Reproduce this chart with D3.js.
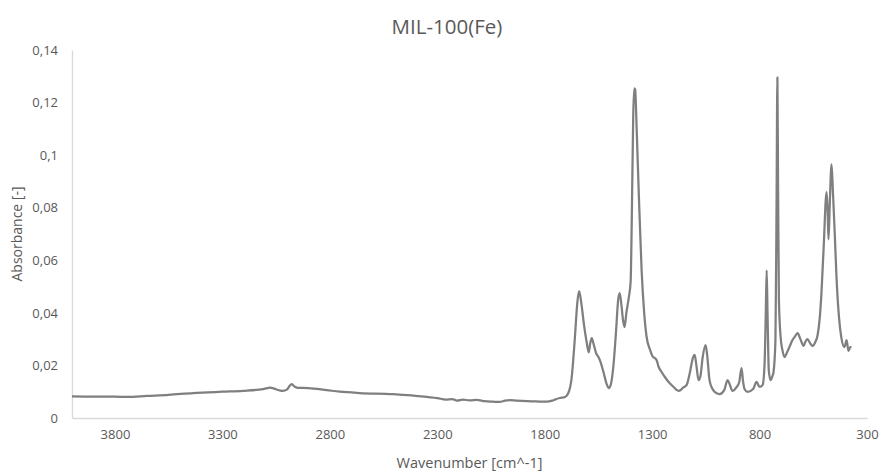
<!DOCTYPE html>
<html>
<head>
<meta charset="utf-8">
<script src="https://cdn.jsdelivr.net/npm/d3@7"></script>
<style>
  body { margin: 0; background: #fff; }
  #chart { width: 880px; height: 474px; }
  text { font-family: "Open Sans", Calibri, sans-serif; fill: #595959; }
</style>
</head>
<body>
<div id="chart"></div>
<script>
// Data
var wavenumbers = [4000, 3900, 3800, 3744, 3650, 3550, 3437, 3300, 3205, 3111, 3090, 3079, 3060, 3030, 3019, 3000, 2985, 2977, 2965, 2950, 2900, 2814, 2754, 2660, 2507, 2420, 2349, 2300, 2260, 2230, 2209, 2180, 2150, 2116, 2080, 2040, 2009, 1985, 1963, 1930, 1880, 1840, 1791, 1765, 1750, 1730, 1705, 1690, 1675, 1660, 1648, 1640, 1630, 1618, 1605, 1595, 1588, 1581, 1572, 1560, 1550, 1540, 1525, 1512, 1502, 1493, 1480, 1468, 1458, 1451, 1443, 1435, 1428, 1420, 1409, 1400, 1394, 1388, 1383, 1379, 1372, 1362, 1349, 1337, 1326, 1310, 1298, 1288, 1279, 1270, 1256, 1240, 1219, 1200, 1177, 1165, 1158, 1140, 1125, 1110, 1102, 1094, 1084, 1075, 1065, 1051, 1044, 1033, 1020, 1009, 986, 965, 949, 940, 926, 907, 895, 884, 877, 870, 856, 830, 814, 800, 786, 777, 771, 767, 763, 757, 749, 740, 735, 726, 721, 717, 714, 710, 702, 694, 684, 672, 661, 648, 637, 623, 610, 595, 587, 577, 565, 554, 540, 530, 520, 512, 500, 492, 488, 483, 479, 473, 465, 458, 450, 442, 430, 419, 405, 395, 386, 378, 372];
var absorbance = [0.0082, 0.0081, 0.0081, 0.0080, 0.0084, 0.0088, 0.0095, 0.0100, 0.0103, 0.0110, 0.0114, 0.0116, 0.0112, 0.0104, 0.0103, 0.0108, 0.0124, 0.0129, 0.0120, 0.0115, 0.0114, 0.0106, 0.0100, 0.0095, 0.0091, 0.0086, 0.0080, 0.0076, 0.0070, 0.0072, 0.0066, 0.0070, 0.0067, 0.0069, 0.0064, 0.0062, 0.0061, 0.0066, 0.0068, 0.0066, 0.0064, 0.0063, 0.0062, 0.0066, 0.0071, 0.0076, 0.0080, 0.0095, 0.0150, 0.0300, 0.0440, 0.0483, 0.0440, 0.0360, 0.0290, 0.0250, 0.0285, 0.0304, 0.0280, 0.0245, 0.0232, 0.0213, 0.0170, 0.0130, 0.0114, 0.0125, 0.0200, 0.0330, 0.0450, 0.0475, 0.0430, 0.0370, 0.0346, 0.0400, 0.0456, 0.0520, 0.0800, 0.1150, 0.1254, 0.1250, 0.1100, 0.0850, 0.0562, 0.0400, 0.0310, 0.0260, 0.0235, 0.0228, 0.0220, 0.0195, 0.0175, 0.0155, 0.0133, 0.0118, 0.0103, 0.0108, 0.0114, 0.0125, 0.0170, 0.0230, 0.0240, 0.0200, 0.0144, 0.0160, 0.0230, 0.0277, 0.0240, 0.0144, 0.0112, 0.0099, 0.0091, 0.0105, 0.0144, 0.0130, 0.0103, 0.0118, 0.0135, 0.0190, 0.0140, 0.0110, 0.0099, 0.0110, 0.0137, 0.0118, 0.0125, 0.0200, 0.0400, 0.0562, 0.0400, 0.0180, 0.0144, 0.0160, 0.0175, 0.0300, 0.0800, 0.1296, 0.0900, 0.0450, 0.0308, 0.0260, 0.0232, 0.0250, 0.0270, 0.0295, 0.0308, 0.0323, 0.0300, 0.0274, 0.0290, 0.0300, 0.0285, 0.0274, 0.0290, 0.0315, 0.0380, 0.0475, 0.0680, 0.0830, 0.0859, 0.0780, 0.0680, 0.0820, 0.0965, 0.0850, 0.0700, 0.0536, 0.0380, 0.0304, 0.0270, 0.0296, 0.0255, 0.0270, 0.0270];
var xTicks = [3800, 3300, 2800, 2300, 1800, 1300, 800, 300];
var yTicks = [0, 0.02, 0.04, 0.06, 0.08, 0.1, 0.12, 0.14];

// General settings
var width = 880;
var height = 474;
var margin = {top: 50, right: 13, bottom: 56, left: 72};

var svg = d3.select("#chart")
    .append("svg")
    .attr("width", width)
    .attr("height", height);

var x = d3.scaleLinear()
    .domain([4000, 300])
    .range([margin.left, width - margin.right]);

var y = d3.scaleLinear()
    .domain([0, 0.14])
    .range([height - margin.bottom, margin.top]);

var fmt = function (d) { return String(d).replace(".", ","); };

// Axes (no tick marks, light axis lines)
var xAxis = svg.append("g")
    .attr("transform", "translate(0," + (height - margin.bottom) + ")")
    .call(d3.axisBottom(x).tickValues(xTicks).tickSize(0).tickPadding(12).tickFormat(d3.format("d")));
xAxis.select(".domain").attr("stroke", "#d9d9d9").attr("stroke-width", 1.3);

var yAxis = svg.append("g")
    .attr("transform", "translate(" + margin.left + ",0)")
    .call(d3.axisLeft(y).tickValues(yTicks).tickSize(0).tickPadding(14).tickFormat(fmt));
yAxis.select(".domain").attr("stroke", "#d9d9d9").attr("stroke-width", 1.3);

svg.selectAll(".tick text")
    .attr("font-family", "'Open Sans', sans-serif")
    .attr("font-size", 13)
    .attr("fill", "#595959");

// Spectrum line
var points = wavenumbers.map(function (d, i) {
    return {wn: d, a: absorbance[i]};
});

var line = d3.line()
    .x(d => x(d.wn))
    .y(d => y(d.a))
    .curve(d3.curveMonotoneX);

svg.append("path")
    .datum(points)
    .attr("fill", "none")
    .attr("stroke", "#7f7f7f")
    .attr("stroke-width", 2.25)
    .attr("stroke-linejoin", "round")
    .attr("d", line);

// Titles
svg.append("text")
    .attr("x", 447)
    .attr("y", 34)
    .attr("text-anchor", "middle")
    .attr("font-size", 20.5)
    .text("MIL-100(Fe)");

svg.append("text")
    .attr("x", (margin.left + width - margin.right) / 2)
    .attr("y", 468)
    .attr("text-anchor", "middle")
    .attr("font-size", 14.5)
    .text("Wavenumber [cm^-1]");

svg.append("text")
    .attr("transform", "translate(22," + ((margin.top + height - margin.bottom) / 2) + ") rotate(-90)")
    .attr("text-anchor", "middle")
    .attr("font-size", 14)
    .text("Absorbance [-]");
</script>
</body>
</html>
